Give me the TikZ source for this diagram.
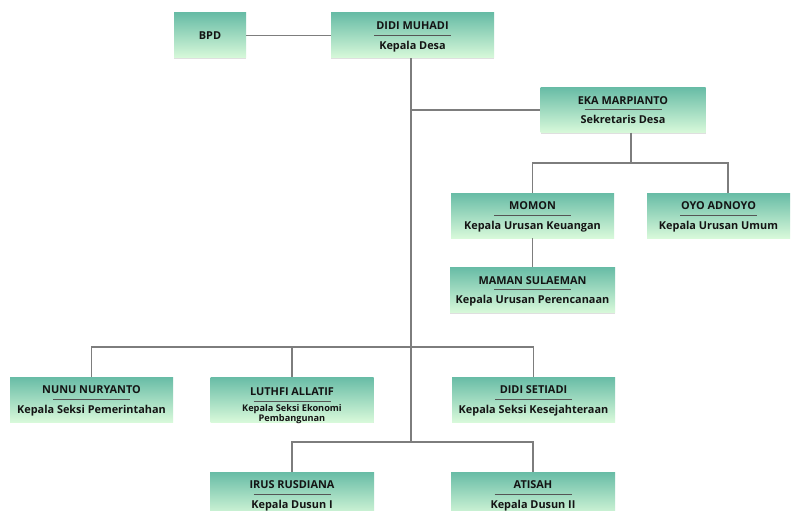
\documentclass[tikz,border=0pt]{standalone}
\usepackage{fontspec}
\setmainfont{Open Sans}
\usetikzlibrary{shadows}

\definecolor{hijauatas}{RGB}{104,188,166}
\definecolor{hijaubawah}{RGB}{216,249,218}
\definecolor{garis}{RGB}{125,125,125}
\definecolor{garisnama}{RGB}{85,85,85}
\definecolor{teks}{RGB}{20,20,20}

\newcommand{\pejabat}[2]{#1\\[-7.1pt]{\color{garisnama}\rule{77pt}{.6pt}}\\[1.4pt]#2}

\tikzset{
    kotak/.style={minimum height=45pt,minimum width=163pt,inner sep=0pt,
        top color=hijauatas,bottom color=hijaubawah,draw=none,
        drop shadow={shadow xshift=0pt,shadow yshift=-1.2pt,opacity=.25,fill=black!50},
        align=center,text=teks,text depth=0pt,
        font=\fontsize{10.9}{12.6}\selectfont\bfseries},
    hubung/.style={draw=garis,line width=1.2pt}
}

\begin{document}
\begin{tikzpicture}[x=1pt,y=-1pt]
        \useasboundingbox[fill=white](0,0) rectangle (798,511);
        % kepala desa dan sekretaris
        \node[kotak,minimum width=72pt] (bpd) at (210,35.5){BPD};
        \node[kotak] (didi) at (412.5,35.5){\pejabat{DIDI MUHADI}{Kepala Desa}};
        \node[kotak,minimum width=165pt] (eka) at (623,110){\pejabat{EKA MARPIANTO}{Sekretaris Desa}};
        % urusan
        \node[kotak] (momon) at (532.5,215.5){\pejabat{MOMON}{Kepala Urusan Keuangan}};
        \node[kotak,minimum width=143pt] (oyo) at (718.5,215.5){\pejabat{OYO ADNOYO}{Kepala Urusan Umum}};
        \node[kotak,minimum width=165pt] (maman) at (532.5,290){\pejabat{MAMAN SULAEMAN}{Kepala Urusan Perencanaan}};
        % seksi
        \node[kotak] (nunu) at (91.5,399.5){\pejabat{NUNU NURYANTO}{Kepala Seksi Pemerintahan}};
        \node[kotak] (luthfi) at (292,399.5){LUTHFI ALLATIF\\[-6pt]{\color{garisnama}\rule{77pt}{.6pt}}\\[-3pt]{\fontsize{9.2}{8}\selectfont\begin{tabular}[t]{@{}c@{}}Kepala Seksi Ekonomi\\[0.6pt]Pembangunan\end{tabular}}};
        \node[kotak] (setiadi) at (533.5,399.5){\pejabat{DIDI SETIADI}{Kepala Seksi Kesejahteraan}};
        % dusun
        \node[kotak,minimum width=164pt] (irus) at (292,494.5){\pejabat{IRUS RUSDIANA}{Kepala Dusun I}};
        \node[kotak,minimum width=164pt] (atisah) at (533,494.5){\pejabat{ATISAH}{Kepala Dusun II}};

        \coordinate (pusat) at (411,442);
        \coordinate (sekcabang) at (631,163);
        \coordinate (seksi) at (411,347);

        \draw[hubung](bpd)--(didi);
        \draw[hubung](didi.south -| pusat)--(pusat);
        \draw[hubung](pusat |- eka.west)--(eka.west);
        \draw[hubung](eka.south -| sekcabang)--(sekcabang);
        \draw[hubung](momon.north)|-(sekcabang)-|([xshift=9.5pt]oyo.north);
        \draw[hubung](momon.south)--(maman.north);
        \draw[hubung](nunu.north)|-(setiadi.north |- seksi)--(setiadi.north);
        \draw[hubung](luthfi.north |- seksi)--(luthfi.north);
        \draw[hubung](irus.north)|-(pusat)-|(atisah.north);
    \end{tikzpicture}
\end{document}
